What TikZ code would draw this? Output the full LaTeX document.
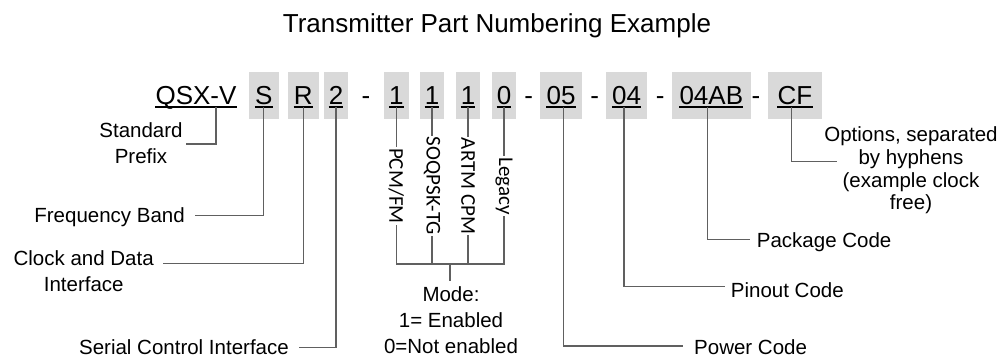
\documentclass[tikz,border=0pt]{standalone}
\usepackage{fontspec}
\setmainfont{Liberation Sans}
\newfontfamily\carlito{Carlito}
\definecolor{boxgray}{RGB}{217,217,217}
\definecolor{linegray}{RGB}{96,96,96}
\begin{document}
\begin{tikzpicture}[x=1pt,y=-1pt,
  box/.style={fill=boxgray, draw=none, minimum height=47.3pt, inner sep=0},
  code/.style={font=\fontsize{26}{30}\selectfont, inner sep=0, anchor=base},
  lbl/.style={font=\fontsize{20.5}{24}\selectfont, inner sep=0, text height=14pt, text depth=0pt},
  mlbl/.style={font=\fontsize{20.5}{26.3}\selectfont, inner sep=0, align=center, anchor=base},
  vlbl/.style={font=\carlito\fontsize{21}{24}\selectfont, rotate=-90, inner xsep=1pt, inner ysep=0},
  conn/.style={draw=linegray, line width=1.2pt},
  uline/.style={line width=1.3pt}]
\useasboundingbox (0,0) rectangle (1005,358);

% title
\node[font=\fontsize{26}{30}\selectfont, anchor=base, inner sep=0] (title) at (497,32.7) {Transmitter Part Numbering Example};

% grey boxes
\node[box, minimum width=30pt]   (bS)  at (263.7,95.7) {};
\node[box, minimum width=30.7pt] (bR)  at (303.3,95.7) {};
\node[box, minimum width=24pt]   (b2)  at (336,95.7) {};
\node[box, minimum width=24.7pt] (bm1) at (396.3,95.7) {};
\node[box, minimum width=24pt]   (bm2) at (432,95.7) {};
\node[box, minimum width=24pt]   (bm3) at (468,95.7) {};
\node[box, minimum width=24pt]   (bm4) at (504,95.7) {};
\node[box, minimum width=42pt]   (b05) at (561,95.7) {};
\node[box, minimum width=41pt]   (b04) at (626.5,95.7) {};
\node[box, minimum width=78.7pt] (bAB) at (711.3,95.7) {};
\node[box, minimum width=54pt]   (bCF) at (795,95.7) {};

% code characters
\node[code] (cQ)  at (196,105)   {QSX-V};
\node[code] (cS)  at (263.7,105) {S};
\node[code] (cR)  at (303.3,105) {R};
\node[code] (c2)  at (336,105)   {2};
\node[code] (d1)  at (366,105)   {-};
\node[code] (cm1) at (396.3,105) {1};
\node[code] (cm2) at (432,105)   {1};
\node[code] (cm3) at (468,105)   {1};
\node[code] (cm4) at (504,105)   {0};
\node[code] (d2)  at (528.7,105) {-};
\node[code] (c05) at (561,105)   {05};
\node[code] (d3)  at (594.7,105) {-};
\node[code] (c04) at (626.5,105) {04};
\node[code] (d4)  at (660.3,105) {-};
\node[code] (cAB) at (711.3,105) {04AB};
\node[code] (d5)  at (756,105)   {-};
\node[code] (cCF) at (795,105)   {CF};

\foreach \n in {cQ,cS,cR,c2,cm1,cm2,cm3,cm4,c05,c04,cAB,cCF}
  \draw[uline] ([yshift=-2pt]\n.base west) -- ([yshift=-2pt]\n.base east);

% left labels (multi-line nodes: base = last line's baseline)
\node[mlbl] (std) at (141,164) {Standard\\Prefix};
\node[lbl, anchor=base east] (freq) at (185,222.7) {Frequency Band};
\node[font=\fontsize{20.5}{25.7}\selectfont, inner sep=0, align=center, anchor=base] (clk) at (83.7,291.7) {Clock and Data\\Interface};
\node[lbl, anchor=base east] (ser) at (289,354.3) {Serial Control Interface};

% mode labels
\node[vlbl] (pcm) at (396.3,186) {PCM/FM};
\node[vlbl] (soq) at (432,186)   {SOQPSK-TG};
\node[vlbl] (art) at (468,186)   {ARTM CPM};
\node[vlbl] (leg) at (504,186)   {Legacy};
\coordinate (bus) at (450,264);
\node[mlbl] (mode) at (451,354) {Mode:\\1= Enabled\\0=Not enabled};

% right labels
\node[lbl, anchor=base west] (pow) at (694,355)     {Power Code};
\node[lbl, anchor=base west] (pin) at (730.7,298)   {Pinout Code};
\node[lbl, anchor=base west] (pkg) at (756.7,247.3) {Package Code};
\node[font=\fontsize{20.5}{22.8}\selectfont, inner sep=0, align=center, anchor=base] (opt) at (911,210)
  {Options, separated\\by hyphens\\(example clock\\free)};

% connectors
\draw[conn] ([xshift=20pt,yshift=-2pt]cQ.base) |- ([xshift=3pt,yshift=20pt]std.base east);
\draw[conn] ([yshift=-2pt]cS.base) |- ([xshift=10pt]freq.east);
\draw[conn] ([yshift=-2pt]cR.base) |- ([xshift=9.3pt,yshift=28.4pt]clk.base east);
\draw[conn] ([yshift=-2pt]c2.base) |- ([xshift=10.3pt]ser.east);

\draw[conn] ([yshift=-2pt]cm1.base) -- (pcm.west);
\draw[conn] ([yshift=-2pt]cm2.base) -- (soq.west);
\draw[conn] ([yshift=-2pt]cm3.base) -- (art.west);
\draw[conn] ([yshift=-2pt]cm4.base) -- (leg.west);
\draw[conn] (pcm.east) -- (pcm.east |- bus) -- (leg.east |- bus) -- (leg.east);
\draw[conn] (soq.east) -- (soq.east |- bus);
\draw[conn] (art.east) -- (art.east |- bus);
\draw[conn] (bus) -- ([xshift=-1pt,yshift=73pt]mode.base);

\draw[conn] ([xshift=2.3pt,yshift=-2pt]c05.base) |- ([xshift=-10.7pt,yshift=2pt]pow.west);
\draw[conn] ([xshift=-2.5pt,yshift=-2pt]c04.base) |- ([xshift=-5.7pt,yshift=4.3pt]pin.west);
\draw[conn] ([xshift=-4pt,yshift=-2pt]cAB.base) |- ([xshift=-6.7pt,yshift=1pt]pkg.west);
\draw[conn] ([xshift=-3.3pt,yshift=-2pt]cCF.base) |- ([xshift=-74.3pt,yshift=48.3pt]opt.base);
\end{tikzpicture}
\end{document}
